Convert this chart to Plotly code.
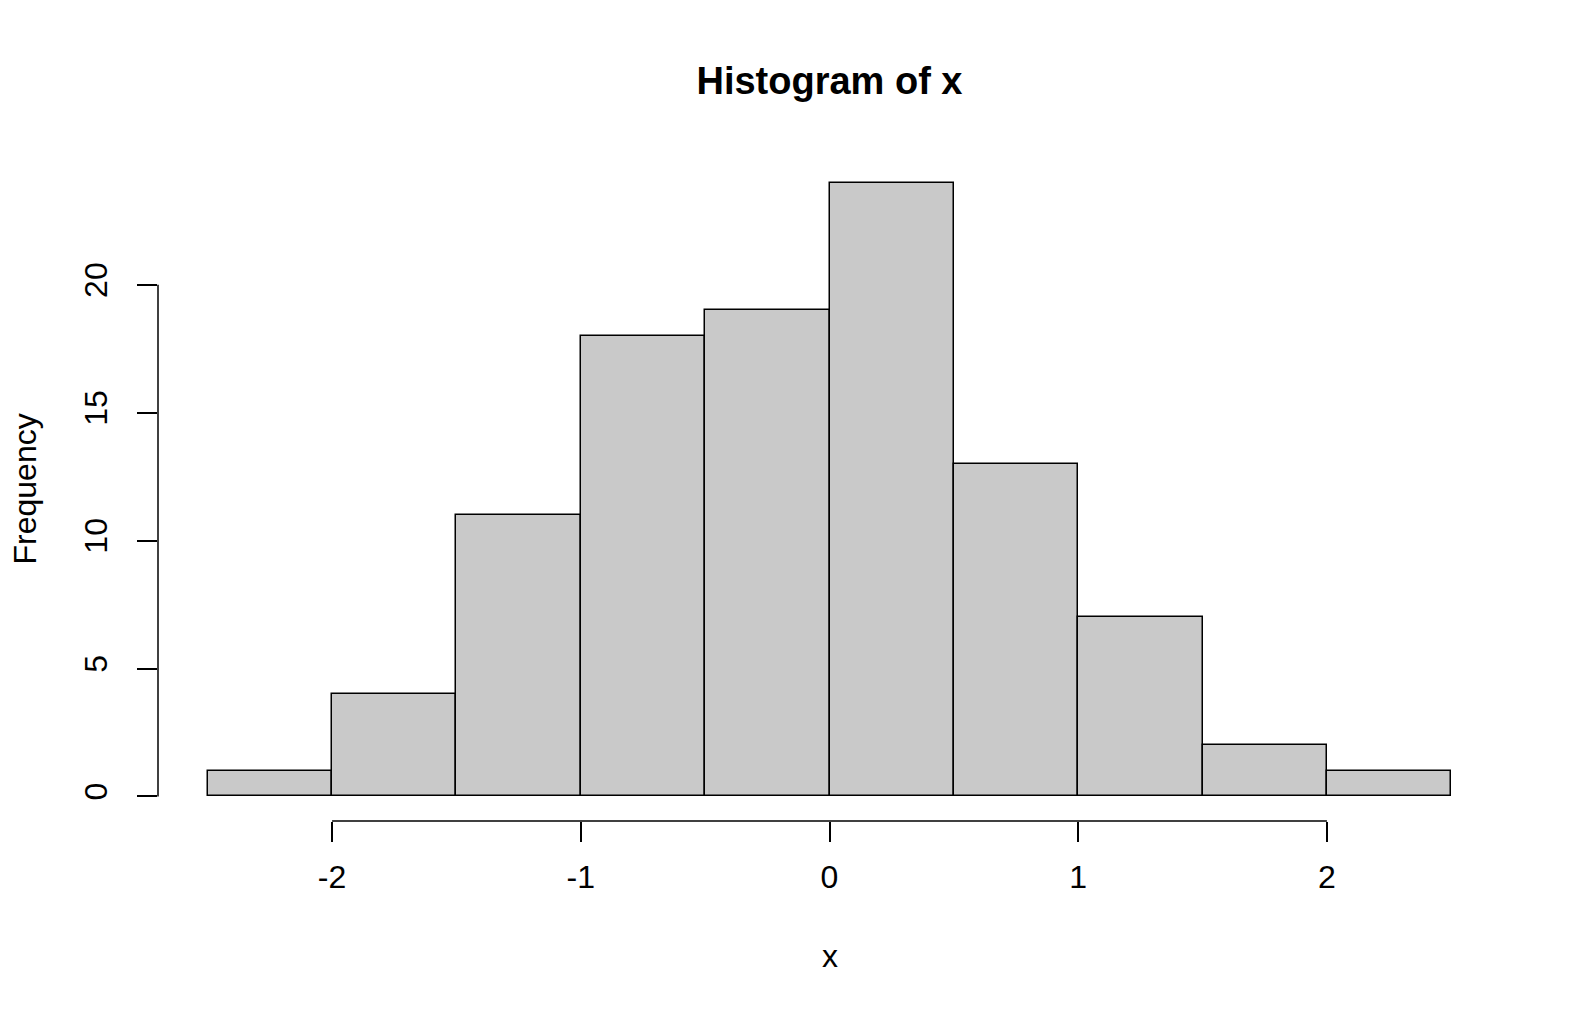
import plotly.graph_objects as go

# ---- data ----
breaks = [-2.5, -2.0, -1.5, -1.0, -0.5, 0.0, 0.5, 1.0, 1.5, 2.0, 2.5]
counts = [1, 4, 11, 18, 19, 24, 13, 7, 2, 1]
x_ticks = [-2, -1, 0, 1, 2]
y_ticks = [0, 5, 10, 15, 20]
title_text = "Histogram of x"
x_label = "x"
y_label = "Frequency"

centers = [(breaks[i] + breaks[i + 1]) / 2 for i in range(len(counts))]
widths = [breaks[i + 1] - breaks[i] for i in range(len(counts))]

# R-style 4% axis extension
xr = breaks[-1] - breaks[0]
x_range = [breaks[0] - 0.04 * xr, breaks[-1] + 0.04 * xr]
yr = max(counts) - 0
y_range = [0 - 0.04 * yr, max(counts) + 0.04 * yr]

FONT = "Liberation Sans, Arial, Helvetica, sans-serif"

fig = go.Figure()
fig.add_trace(go.Bar(
    x=centers, y=counts, width=widths,
    marker=dict(color="#c9c9c9", line=dict(color="black", width=1.5)),
    hoverinfo="x+y",
))

W, H = 1582, 1016
OFF = 8  # page body margin
ml, mr, mt, mb = 158 - OFF, 81 + OFF, 158 - OFF, 195 + OFF

fig.update_layout(
    width=W, height=H,
    margin=dict(l=ml, r=mr, t=mt, b=mb, pad=0),
    paper_bgcolor="white", plot_bgcolor="white",
    showlegend=False, bargap=0,
    font=dict(family=FONT, size=32, color="black"),
    title=dict(text="<b>" + title_text + "</b>", x=0.5, xref="paper",
               y=1 - (81 - OFF) / H, yref="container", yanchor="middle", xanchor="center",
               font=dict(size=38, family=FONT, color="black")),
    xaxis=dict(range=x_range, tickmode="array", tickvals=x_ticks,
               ticktext=[str(t) for t in x_ticks],
               showgrid=False, zeroline=False, showline=False,
               ticks="outside", ticklen=20, tickwidth=1.5, tickcolor="black",
               tickfont=dict(size=32, family=FONT), ticklabelstandoff=8),
    yaxis=dict(range=y_range, tickmode="array", tickvals=y_ticks,
               ticktext=[str(t) for t in y_ticks],
               showgrid=False, zeroline=False, showline=False,
               ticks="outside", ticklen=20, tickwidth=1.5, tickcolor="black",
               tickangle=-90, tickfont=dict(size=32, family=FONT),
               ticklabelstandoff=17),
)

# axis lines spanning first to last tick (R style)
fig.add_shape(type="line", xref="paper", yref="y", x0=0, x1=0,
              y0=y_ticks[0], y1=y_ticks[-1], line=dict(color="black", width=1.5))
fig.add_shape(type="line", xref="x", yref="paper", x0=x_ticks[0], x1=x_ticks[-1],
              y0=0, y1=0, line=dict(color="black", width=1.5))

plot_w = W - ml - mr
plot_h = H - mt - mb
fig.add_annotation(text=x_label, xref="paper", yref="paper", x=0.5,
                   y=-(956 - (H - mb + OFF)) / plot_h, showarrow=False,
                   xanchor="center", yanchor="middle",
                   font=dict(size=32, family=FONT, color="black"))
fig.add_annotation(text=y_label, xref="paper", yref="paper",
                   x=-(ml + OFF - 24) / plot_w, y=0.5, textangle=-90, showarrow=False,
                   xanchor="center", yanchor="middle",
                   font=dict(size=32, family=FONT, color="black"))

fig.write_html("out.html")
